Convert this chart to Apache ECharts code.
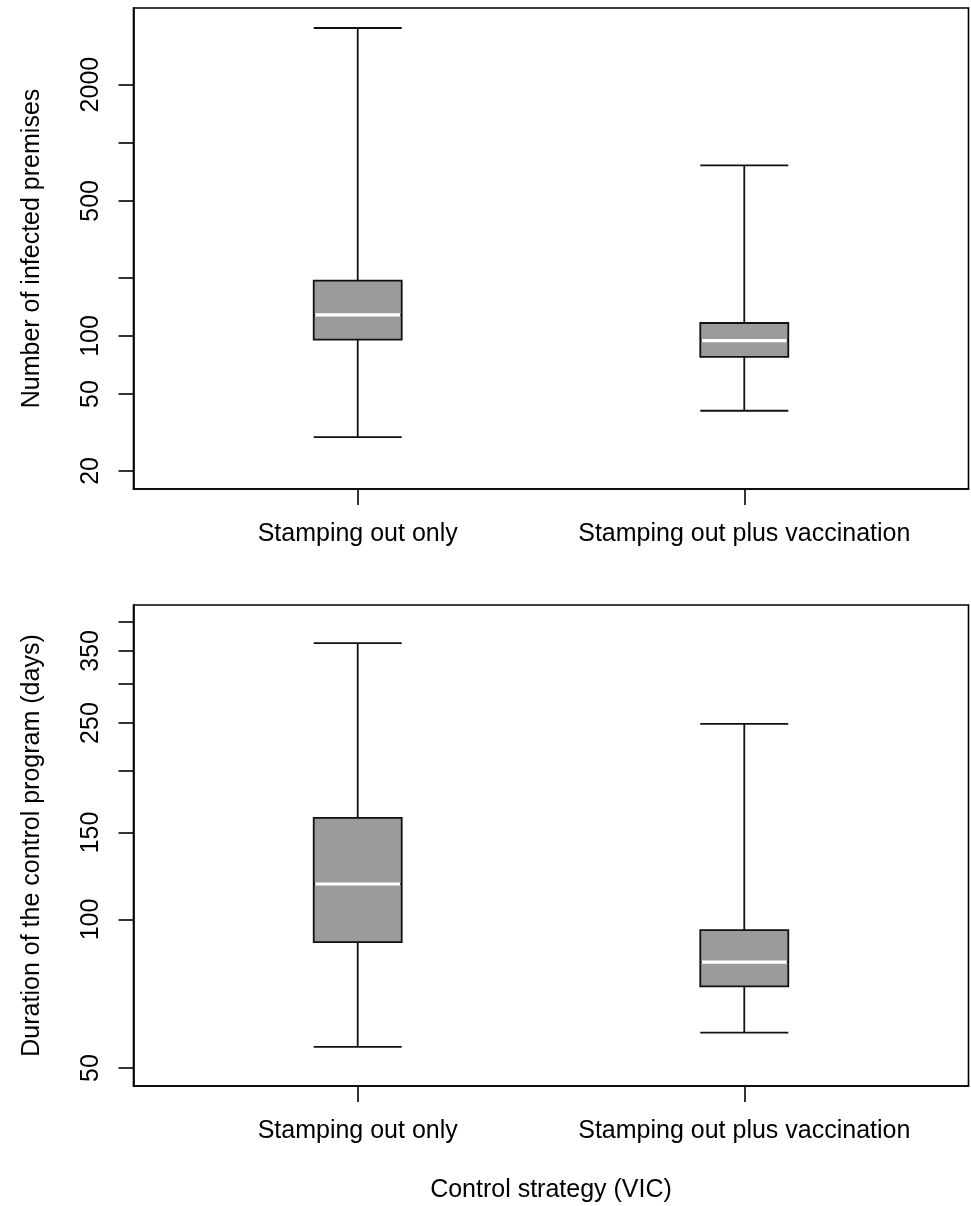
<!DOCTYPE html>
<html>
<head>
<meta charset="utf-8">
<script src="https://cdn.jsdelivr.net/npm/echarts@6/dist/echarts.min.js"></script>
<style>
html,body{margin:0;padding:0;background:#fff;}
#chart{width:971px;height:1206px;}
</style>
</head>
<body>
<div id="chart"></div>
<script>
// ---- data ----
const categories = ['Stamping out only', 'Stamping out plus vaccination'];
const categoryPositions = [1, 2];

// Number of infected premises
const ipMin    = [29.9, 41.0];
const ipQ1     = [95.6, 77.9];
const ipMedian = [128.4, 94.5];
const ipQ3     = [193.2, 116.7];
const ipMax    = [3926, 764];
const ipTicks  = [20, 50, 100, 200, 500, 1000, 2000];
const ipLabels = [20, 50, 100, 500, 2000];

// Duration of the control program (days)
const durMin    = [55.2, 59.0];
const durQ1     = [90.0, 73.2];
const durMedian = [118.0, 82.0];
const durQ3     = [160.6, 95.2];
const durMax    = [363, 249];
const durTicks  = [50, 100, 150, 200, 250, 300, 350, 400];
const durLabels = [50, 100, 150, 250, 350];

// ---- build ----
function boxData(mn, q1, md, q3, mx) {
  return categoryPositions.map((x, i) => [x, mn[i], q1[i], md[i], q3[i], mx[i]]);
}
function medData(md) {
  return categoryPositions.map((x, i) => [x, md[i]]);
}
const FONT = '"Liberation Sans", Arial, Helvetica, sans-serif';
const FS = 25;

function xAxisCfg(gridIndex, withName) {
  return {
    type: 'value', gridIndex: gridIndex, min: 0.42, max: 2.58,
    axisLine: { show: true, lineStyle: { color: '#000', width: 1.6 } },
    axisTick: { show: true, customValues: categoryPositions, length: 16, lineStyle: { color: '#000', width: 1.6 } },
    axisLabel: { show: true, customValues: categoryPositions, margin: 33, color: '#000', fontSize: FS, fontFamily: FONT,
      formatter: v => categories[Math.round(v) - 1] },
    splitLine: { show: false },
    name: withName ? 'Control strategy (VIC)' : '',
    nameLocation: 'middle', nameGap: 92,
    nameTextStyle: { color: '#000', fontSize: FS, fontFamily: FONT }
  };
}
function yAxisCfg(gridIndex, name, mn, mx, ticks, labels) {
  return {
    type: 'log', logBase: 10, gridIndex: gridIndex, min: mn, max: mx,
    axisLine: { show: true, lineStyle: { color: '#000', width: 1.6 } },
    axisTick: { show: true, customValues: ticks, length: 15, lineStyle: { color: '#000', width: 1.6 } },
    axisLabel: { show: true, customValues: labels, rotate: 90, margin: 30, color: '#000', fontSize: FS, fontFamily: FONT,
      formatter: v => String(Math.round(v)) },
    splitLine: { show: false },
    minorTick: { show: false },
    name: name, nameLocation: 'middle', nameGap: 89, nameRotate: 90,
    nameTextStyle: { color: '#000', fontSize: FS, fontFamily: FONT }
  };
}
function medianSeries(axisIndex, md) {
  return {
    type: 'custom', xAxisIndex: axisIndex, yAxisIndex: axisIndex,
    data: medData(md), z: 10,
    renderItem: function (params, api) {
      const p = api.coord([api.value(0), api.value(1)]);
      return {
        type: 'line',
        shape: { x1: p[0] - 42.5, y1: p[1], x2: p[0] + 42.5, y2: p[1] },
        style: { stroke: '#ffffff', lineWidth: 3.2 }
      };
    }
  };
}
function boxSeries(axisIndex, data) {
  return {
    type: 'boxplot', xAxisIndex: axisIndex, yAxisIndex: axisIndex,
    boxWidth: [88, 88], data: data,
    itemStyle: { color: '#9b9b9b', borderColor: '#111', borderWidth: 1.8 },
    emphasis: { disabled: true }
  };
}

const option = {
  animation: false,
  backgroundColor: '#fff',
  grid: [
    { left: 133.5, top: 8, width: 835, height: 481, show: true, borderColor: '#000', borderWidth: 1.6, backgroundColor: 'transparent' },
    { left: 133.5, top: 605, width: 835, height: 481, show: true, borderColor: '#000', borderWidth: 1.6, backgroundColor: 'transparent' }
  ],
  xAxis: [xAxisCfg(0, false), xAxisCfg(1, true)],
  yAxis: [
    yAxisCfg(0, 'Number of infected premises', 16.13, 4984, ipTicks, ipLabels),
    yAxisCfg(1, 'Duration of the control program (days)', 46.0, 433.5, durTicks, durLabels)
  ],
  series: [
    boxSeries(0, boxData(ipMin, ipQ1, ipMedian, ipQ3, ipMax)),
    medianSeries(0, ipMedian),
    boxSeries(1, boxData(durMin, durQ1, durMedian, durQ3, durMax)),
    medianSeries(1, durMedian)
  ]
};
const chart = echarts.init(document.getElementById('chart'), null, { renderer: 'canvas' });
chart.setOption(option);
</script>
</body>
</html>
